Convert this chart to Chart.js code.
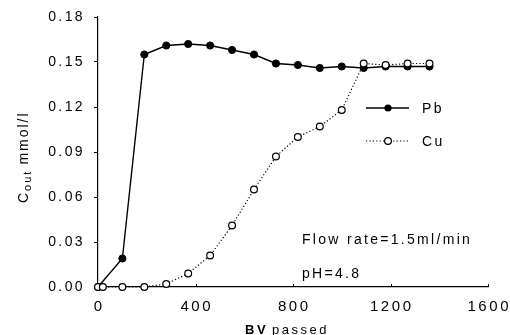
<!DOCTYPE html>
<html><head><meta charset="utf-8">
<script src="https://cdn.jsdelivr.net/npm/chart.js@4"></script>
<style>html,body{margin:0;padding:0;background:#fff}#wrap{width:510px;height:335px}</style>
</head><body><div id="wrap"><canvas id="c" width="510" height="335"></canvas></div>
<script>
const bvPb = [0, 100, 190, 280, 370, 460, 550, 640, 730, 820, 910, 1000, 1090, 1180, 1270, 1360];
const pbValues = [0, 0.019, 0.155, 0.161, 0.162, 0.161, 0.158, 0.155, 0.149, 0.148, 0.146, 0.147, 0.146, 0.147, 0.147, 0.147];
const bvCu = [0, 20, 100, 190, 280, 370, 460, 550, 640, 730, 820, 910, 1000, 1090, 1180, 1270, 1360];
const cuValues = [0, 0, 0, 0, 0.002, 0.009, 0.021, 0.041, 0.065, 0.087, 0.100, 0.107, 0.118, 0.149, 0.148, 0.149, 0.149];
const xTicks = [0, 400, 800, 1200, 1600];
const yTicks = [0.00, 0.03, 0.06, 0.09, 0.12, 0.15, 0.18];
const seriesNames = ['Pb', 'Cu'];
const noteLines = ['Flow rate=1.5ml/min', 'pH=4.8'];

const FONT = '"Liberation Sans", Arial, sans-serif';

const decor = {
  id: 'decor',
  afterDraw(chart) {
    const ctx = chart.ctx;
    const xs = chart.scales.x, ys = chart.scales.y;
    const ca = chart.chartArea;
    ctx.save();
    ctx.fillStyle = '#000';
    ctx.strokeStyle = '#000';
    // x inward ticks
    ctx.lineWidth = 1;
    xTicks.forEach(v => {
      if (v === 0) return;
      const px = Math.round(xs.getPixelForValue(v)) + 0.5;
      ctx.beginPath(); ctx.moveTo(px, ca.bottom); ctx.lineTo(px, ca.bottom - 3); ctx.stroke();
    });
    // y tick labels
    ctx.font = '14px ' + FONT;
    ctx.letterSpacing = '2.4px';
    ctx.textAlign = 'right'; ctx.textBaseline = 'middle';
    yTicks.forEach(v => {
      ctx.fillText(v.toFixed(2), 85, ys.getPixelForValue(v) + 0.5);
    });
    // x tick labels
    ctx.font = '15px ' + FONT;
    ctx.letterSpacing = '2.6px';
    ctx.textAlign = 'center';
    xTicks.forEach(v => {
      ctx.fillText(String(v), xs.getPixelForValue(v) + 1.3, 307);
    });
    // x title
    ctx.textAlign = 'left'; ctx.textBaseline = 'alphabetic';
    ctx.letterSpacing = '2.5px';
    ctx.font = 'bold 13px ' + FONT;
    let x0 = 245;
    ctx.fillText('BV', x0, 334);
    x0 += ctx.measureText('BV').width + 4;
    ctx.font = '13px ' + FONT;
    ctx.fillText('passed', x0, 334);
    // y title rotated
    ctx.save();
    ctx.translate(28, 203);
    ctx.rotate(-Math.PI / 2);
    ctx.letterSpacing = '2px';
    ctx.font = '14px ' + FONT;
    let t = 0;
    ctx.fillText('C', t, 0);
    t += ctx.measureText('C').width;
    ctx.font = '11px ' + FONT;
    ctx.fillText('out', t, 3);
    t += ctx.measureText('out').width + 5;
    ctx.font = '14px ' + FONT;
    ctx.fillText('mmol/l', t, 0);
    ctx.restore();
    // legend
    const lx0 = 366, lx1 = 409, lmx = 388;
    const ly = [108, 141];
    ctx.lineWidth = 1.4; ctx.setLineDash([]);
    ctx.beginPath(); ctx.moveTo(lx0, ly[0]); ctx.lineTo(lx1, ly[0]); ctx.stroke();
    ctx.beginPath(); ctx.arc(lmx, ly[0], 3.6, 0, Math.PI * 2); ctx.fill();
    ctx.lineWidth = 1.2; ctx.setLineDash([1.2, 2.2]);
    ctx.beginPath(); ctx.moveTo(lx0, ly[1]); ctx.lineTo(lx1, ly[1]); ctx.stroke();
    ctx.setLineDash([]);
    ctx.fillStyle = '#fff';
    ctx.beginPath(); ctx.arc(lmx, ly[1], 3.4, 0, Math.PI * 2); ctx.fill(); ctx.stroke();
    ctx.fillStyle = '#000';
    ctx.font = '14px ' + FONT; ctx.letterSpacing = '2.5px';
    ctx.textBaseline = 'middle';
    ctx.fillText(seriesNames[0], 422, ly[0] + 1);
    ctx.fillText(seriesNames[1], 422, ly[1] + 1);
    // notes
    ctx.font = '14px ' + FONT; ctx.letterSpacing = '2.3px';
    ctx.fillText(noteLines[0], 302, 240);
    ctx.fillText(noteLines[1], 302, 274);
    ctx.restore();
  }
};

new Chart(document.getElementById('c'), {
  type: 'line',
  data: {
    datasets: [
      {
        label: 'Cu',
        data: bvCu.map((x, i) => ({x, y: cuValues[i]})),
        borderColor: '#000', borderWidth: 1.2, borderDash: [1.2, 2.2],
        pointRadius: 3.4, pointBackgroundColor: '#fff', pointBorderColor: '#000', pointBorderWidth: 1.2,
        tension: 0, clip: false, order: 0
      },
      {
        label: 'Pb',
        data: bvPb.map((x, i) => ({x, y: pbValues[i]})),
        borderColor: '#000', borderWidth: 1.4,
        pointRadius: 3.6, pointBackgroundColor: '#000', pointBorderColor: '#000', pointBorderWidth: 1,
        tension: 0, clip: false, order: 1
      }
    ]
  },
  options: {
    responsive: false, animation: false, devicePixelRatio: 1,
    layout: {padding: {left: 0, top: 17, right: 22, bottom: 0}},
    plugins: {legend: {display: false}, tooltip: {enabled: false}},
    scales: {
      x: {
        type: 'linear', min: 0, max: 1600,
        ticks: {display: false, stepSize: 400},
        grid: {display: false},
        border: {display: true, color: '#000', width: 1.2},
        afterFit(s) { s.height = 48; }
      },
      y: {
        min: 0, max: 0.18,
        ticks: {display: false, stepSize: 0.03},
        grid: {display: true, drawOnChartArea: false, drawTicks: true, tickLength: 4, color: '#000'},
        border: {display: true, color: '#000', width: 1.2},
        afterFit(s) { s.width = 98; }
      }
    }
  },
  plugins: [decor]
});
</script>
</body></html>
